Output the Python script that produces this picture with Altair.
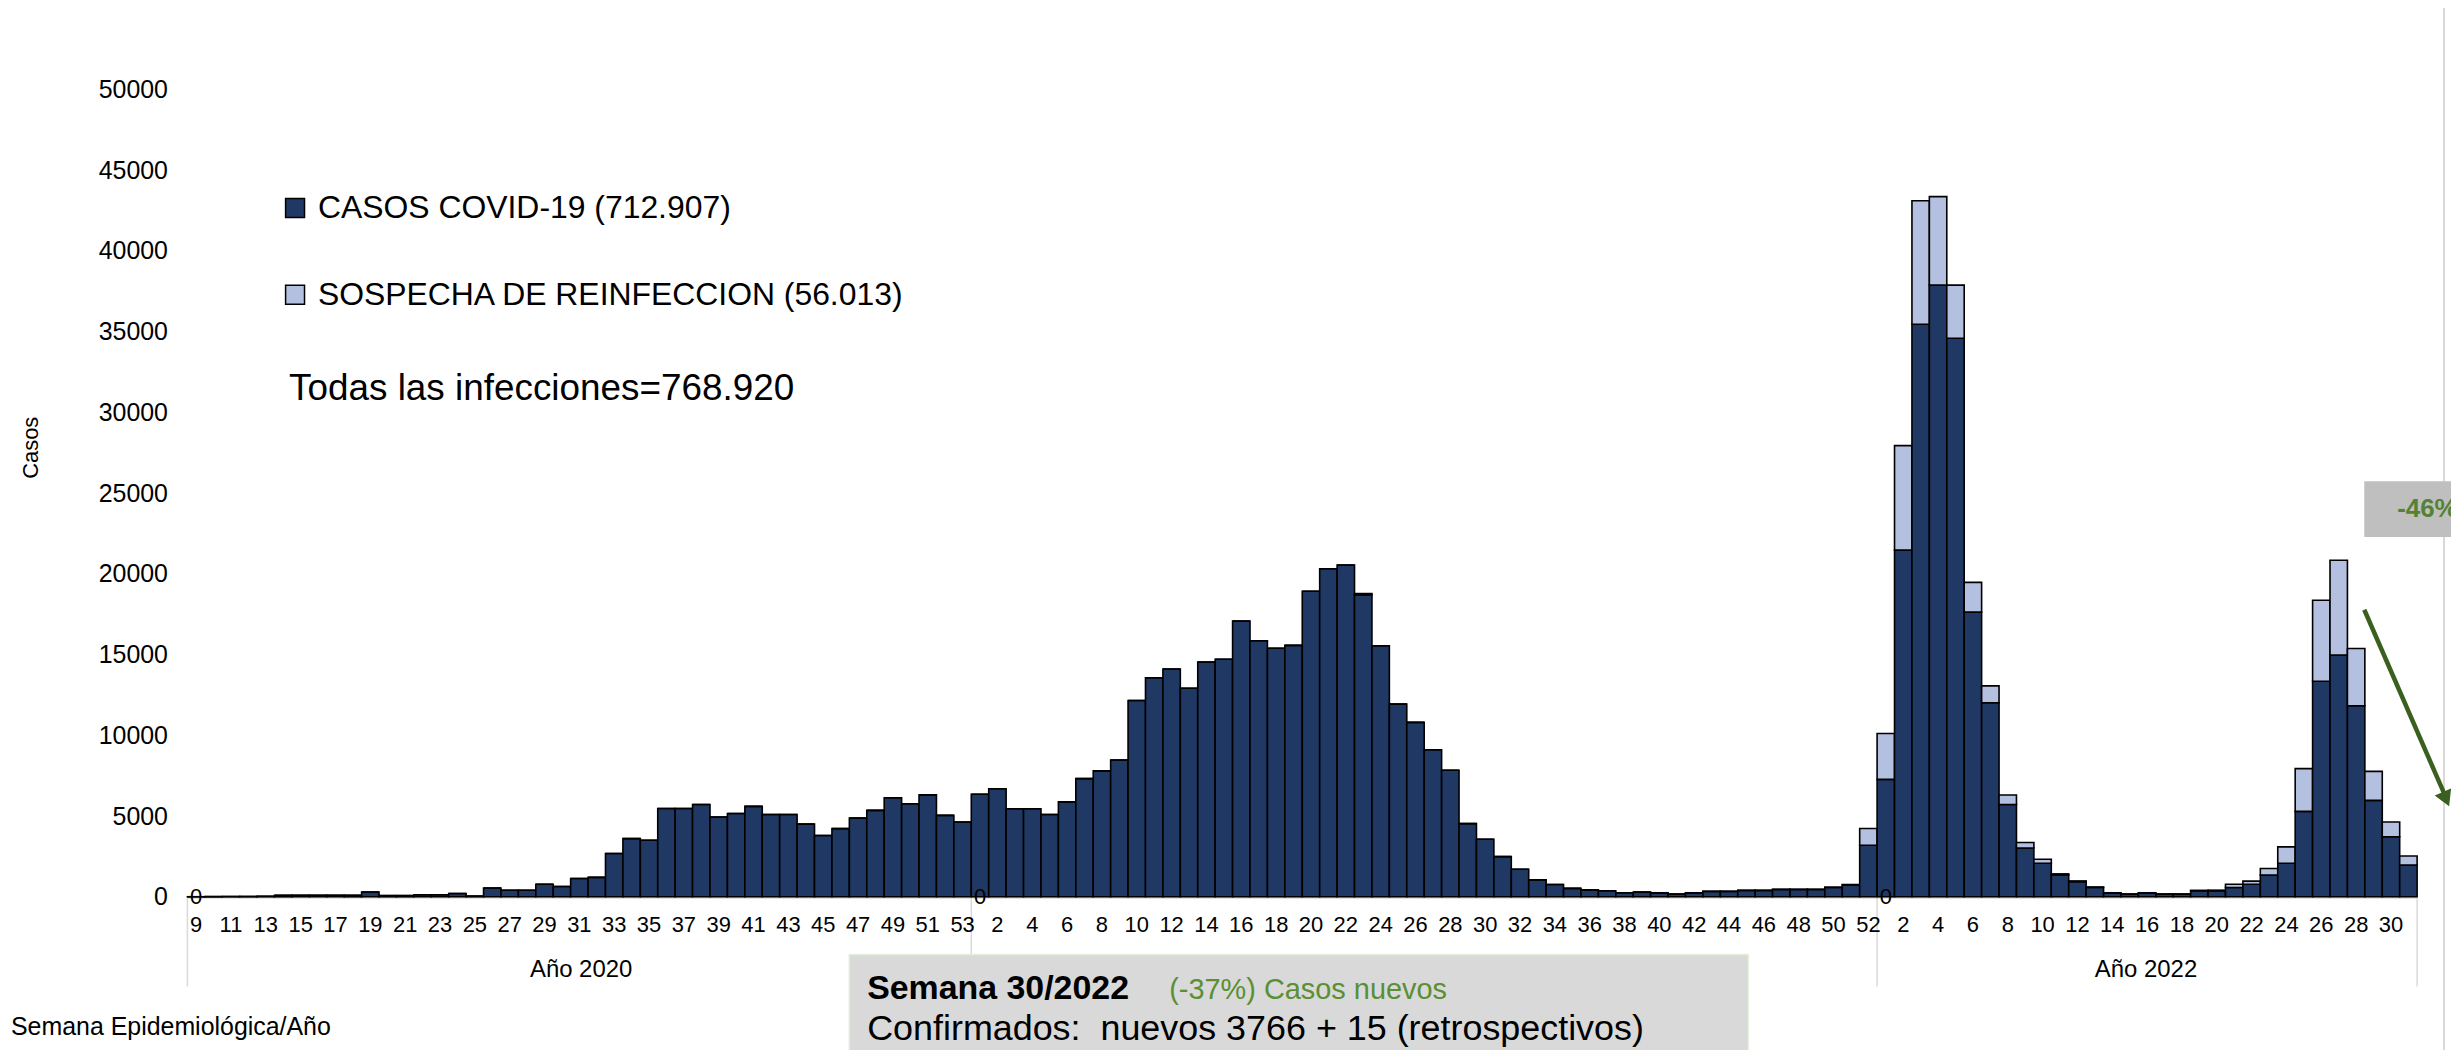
import altair as alt
import pandas as pd

FONT = "Liberation Sans, Arial, Helvetica, sans-serif"
NAVY = "#203864"
LIGHT = "#B4C0E0"
GREEN_TXT = "#5A8F34"
GREEN_DARK = "#3A5F1F"
GRID_GRAY = "#D9D9D9"

SERIES = ["CASOS COVID-19 (712.907)", "SOSPECHA DE REINFECCION (56.013)"]

# Epidemiological weeks per year
semanas_2020 = list(range(9, 54))
semanas_2021 = list(range(1, 53))
semanas_2022 = list(range(1, 32))

# Confirmed cases (dark series)
casos_2020 = [5, 8, 15, 20, 30, 90, 100, 100, 100, 90,
              300, 70, 70, 130, 130, 200, 40, 540, 410, 410,
              780, 640, 1130, 1200, 2680, 3600, 3500, 5470, 5470, 5720,
              4940, 5160, 5600, 5100, 5100, 4500, 3800, 4220, 4870, 5350,
              6130, 5760, 6310, 5040, 4630]
casos_2021 = [6350, 6690, 5450, 5450, 5100, 5880, 7320, 7800, 8470, 12160,
              13570, 14110, 12920, 14540, 14710, 17070, 15860, 15390, 15570, 18920,
              20320, 20550, 18700, 15550, 11930, 10800, 9110, 7840, 4530, 3560,
              2490, 1710, 1050, 760, 520, 430, 370, 250, 290, 230,
              160, 230, 330, 330, 390, 390, 450, 450, 450, 580,
              740, 3190]
casos_2022 = [7270, 21470, 35460, 37880, 34590, 17630, 12020, 5720, 3020, 2080,
              1360, 940, 580, 230, 160, 230, 160, 160, 370, 370,
              580, 780, 1340, 2080, 5290, 13350, 14970, 11830, 5970, 3720,
              1970]

# Suspected reinfections (light series)
reinf_2020 = [0, 0, 0, 0, 0, 0, 0, 0, 0, 0,
              0, 0, 0, 0, 0, 0, 0, 0, 0, 0,
              0, 0, 0, 0, 0, 0, 0, 0, 0, 0,
              0, 0, 0, 0, 0, 0, 0, 0, 0, 0,
              0, 0, 0, 0, 0]
reinf_2021 = [0, 0, 0, 0, 0, 0, 0, 0, 0, 0,
              0, 0, 0, 0, 0, 0, 0, 0, 0, 0,
              0, 0, 80, 0, 0, 0, 0, 0, 0, 0,
              0, 0, 0, 0, 0, 0, 0, 0, 0, 20,
              20, 20, 20, 20, 20, 20, 20, 20, 20, 20,
              20, 1040]
reinf_2022 = [2840, 6470, 7650, 5480, 3290, 1840, 1040, 580, 340, 250,
              60, 40, 30, 20, 20, 20, 20, 20, 30, 40,
              200, 190, 410, 1010, 2650, 5020, 5870, 3550, 1800, 910,
              560]

y_ticks = [0, 5000, 10000, 15000, 20000, 25000, 30000, 35000, 40000, 45000, 50000]

keys = ([f"2020|{w}" for w in semanas_2020] + [f"2021|{w}" for w in semanas_2021]
        + [f"2022|{w}" for w in semanas_2022])
casos = casos_2020 + casos_2021 + casos_2022
reinf = reinf_2020 + reinf_2021 + reinf_2022

# Week tick labels: odd weeks in 2020, even weeks in 2021 and 2022
shown_keys = ([f"2020|{w}" for w in semanas_2020 if w % 2 == 1]
              + [f"2021|{w}" for w in semanas_2021 if w % 2 == 0]
              + [f"2022|{w}" for w in semanas_2022 if w % 2 == 0])
shown_labels = [k.split("|")[1] for k in shown_keys]

rows = []
for k, c, r in zip(keys, casos, reinf):
    rows.append({"key": k, "serie": SERIES[0], "valor": c, "ord": 0})
    rows.append({"key": k, "serie": SERIES[1], "valor": r, "ord": 1})
df = pd.DataFrame(rows)

xscale = alt.Scale(domain=keys, paddingInner=0, paddingOuter=0)

bars = alt.Chart(df).mark_bar(stroke="black", strokeWidth=1.6).encode(
    x=alt.X("key:N", scale=xscale, axis=None),
    y=alt.Y("valor:Q", stack="zero", scale=alt.Scale(domain=[0, 50000], nice=False),
            axis=alt.Axis(values=y_ticks, format="d", grid=False, domain=False, ticks=False,
                          labelPadding=20, labelFontSize=25, labelFont=FONT, labelColor="black",
                          title="Casos", titleFont=FONT, titleFontSize=22, titleFontWeight="normal",
                          titleColor="black", titleX=-157, titleY=359, titleAngle=270,
                          titleAlign="center", titleBaseline="middle")),
    color=alt.Color("serie:N", scale=alt.Scale(domain=SERIES, range=[NAVY, LIGHT]),
                    legend=alt.Legend(orient="none", legendX=92, legendY=103, direction="vertical",
                                      title=None, symbolType="square", symbolSize=361,
                                      symbolStrokeColor="black", symbolStrokeWidth=1.5,
                                      labelFont=FONT, labelFontSize=32, labelColor="black",
                                      labelLimit=2000, rowPadding=55, labelOffset=7, padding=0)),
    order=alt.Order("ord:Q", sort="ascending"),
)

# Week labels under the bars (through the same band scale)
lab_df = pd.DataFrame({"key": shown_keys, "lab": shown_labels})
week_labels = alt.Chart(lab_df).mark_text(font=FONT, fontSize=22, color="black",
                                          baseline="middle", align="center").encode(
    x=alt.X("key:N", scale=xscale, axis=None), y=alt.value(838), text="lab:N")

# Light gray baseline (category axis line)
baseline = alt.Chart(pd.DataFrame({"a": [0]})).mark_rule(color=GRID_GRAY, strokeWidth=2).encode(
    x=alt.value(0), x2=alt.value(2237), y=alt.value(811))

# "0" data labels at the first week of every year
zero_df = pd.DataFrame({"key": ["2020|9", "2021|1", "2022|1"], "t": ["0", "0", "0"]})
zeros = alt.Chart(zero_df).mark_text(font=FONT, fontSize=22, color="black", baseline="middle",
                                     align="center").encode(
    x=alt.X("key:N", scale=xscale, axis=None), y=alt.value(810), text="t:N")

# Year separators below the axis
sep_df = pd.DataFrame({"key": ["2020|9", "2021|1", "2022|1"]})
seps = alt.Chart(sep_df).mark_rule(color=GRID_GRAY, strokeWidth=1.5).encode(
    x=alt.X("key:N", scale=xscale, axis=None, bandPosition=0),
    y=alt.value(810), y2=alt.value(900))
sep_end = alt.Chart(pd.DataFrame({"key": ["2022|31"]})).mark_rule(color=GRID_GRAY, strokeWidth=1.5).encode(
    x=alt.X("key:N", scale=xscale, axis=None, bandPosition=1),
    y=alt.value(810), y2=alt.value(900))


def txt(s, x, y, size, color="black", weight="normal", align="left", baseline="middle"):
    return alt.Chart(pd.DataFrame({"t": [s]})).mark_text(
        font=FONT, fontSize=size, color=color, fontWeight=weight, align=align, baseline=baseline
    ).encode(x=alt.value(x), y=alt.value(y), text="t:N")


def box(x1, x2, y1, y2, color, stroke=None):
    kw = {"color": color}
    if stroke:
        kw.update(stroke=stroke, strokeWidth=1.5)
    return alt.Chart(pd.DataFrame({"a": [0]})).mark_rect(**kw).encode(
        x=alt.value(x1), x2=alt.value(x2), y=alt.value(y1), y2=alt.value(y2))


frame = alt.Chart(pd.DataFrame({"a": [0]})).mark_rect(
    fillOpacity=0, stroke=GRID_GRAY, strokeWidth=2).encode(
    x=alt.value(-184), x2=alt.value(2264), y=alt.value(-84), y2=alt.value(1000))

layers = [
    frame,
    seps, sep_end,
    baseline,
    bars,
    week_labels,
    zeros,
    txt("Todas las infecciones=768.920", 102, 301, 37),
    txt("Año 2020", 395, 883, 24, align="center"),
    txt("Año 2022", 1965, 883, 24, align="center"),
    txt("Semana Epidemiológica/Año", -177, 941, 25),
    box(664, 1566, 868, 975, "#D9D9D9", stroke="#E2EFDA"),
    txt("Semana 30/2022", 682, 913, 34, weight="bold", baseline="alphabetic"),
    txt("(-37%) Casos nuevos", 985, 913, 29, color=GREEN_TXT, baseline="alphabetic"),
    txt("Confirmados:\u00a0 nuevos 3766 + 15 (retrospectivos)", 682, 954, 36, baseline="alphabetic"),
    box(2184, 2290, 393, 449, "#BFBFBF"),
    txt("-46%", 2217, 421, 26, color="#548235", weight="bold"),
    alt.Chart(pd.DataFrame({"a": [0]})).mark_rule(color=GREEN_DARK, strokeWidth=4.5).encode(
        x=alt.value(2184), x2=alt.value(2264), y=alt.value(522), y2=alt.value(706)),
    alt.Chart(pd.DataFrame({"a": [0]})).mark_point(
        shape="triangle-down", filled=True, size=320, angle=336.4, color=GREEN_DARK, opacity=1).encode(
        x=alt.value(2266), y=alt.value(712)),
]

chart = alt.layer(*layers).properties(
    width=2237, height=810,
    padding={"left": 180, "top": 80, "right": 34, "bottom": 152},
    autosize=alt.AutoSizeParams(type="none"),
    background="white",
).configure_view(strokeWidth=0)

chart.save("out.html", embed_options={"renderer": "svg", "actions": False})
